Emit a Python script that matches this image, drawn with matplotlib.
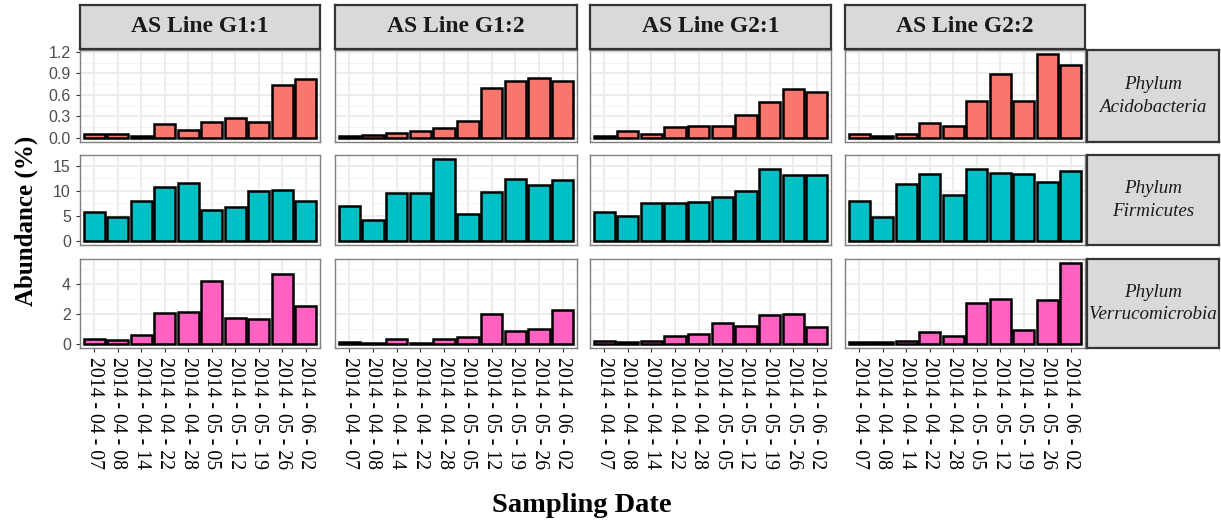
import matplotlib
matplotlib.use("Agg")
import matplotlib.pyplot as plt
import numpy as np

dates = ["2014 - 04 - 07", "2014 - 04 - 08", "2014 - 04 - 14", "2014 - 04 - 22",
         "2014 - 04 - 28", "2014 - 05 - 05", "2014 - 05 - 12", "2014 - 05 - 19",
         "2014 - 05 - 26", "2014 - 06 - 02"]
lines = ["AS Line G1:1", "AS Line G1:2", "AS Line G2:1", "AS Line G2:2"]
phyla = ["Phylum\nAcidobacteria", "Phylum\nFirmicutes", "Phylum\nVerrucomicrobia"]
colors = ["#F8766D", "#00BFC4", "#FF61C3"]

acido_g11 = [0.05, 0.05, 0.03, 0.20, 0.11, 0.22, 0.28, 0.22, 0.74, 0.82]
acido_g12 = [0.03, 0.04, 0.07, 0.10, 0.14, 0.24, 0.70, 0.80, 0.84, 0.79]
acido_g21 = [0.02, 0.09, 0.05, 0.15, 0.17, 0.17, 0.32, 0.50, 0.68, 0.64]
acido_g22 = [0.06, 0.03, 0.05, 0.21, 0.16, 0.52, 0.89, 0.52, 1.17, 1.02]

firm_g11 = [5.8, 4.8, 8.0, 10.7, 11.5, 6.2, 6.8, 9.9, 10.2, 8.0]
firm_g12 = [6.9, 4.2, 9.6, 9.5, 16.3, 5.3, 9.7, 12.4, 11.2, 12.1]
firm_g21 = [5.7, 5.0, 7.6, 7.5, 7.7, 8.7, 9.9, 14.4, 13.2, 13.1]
firm_g22 = [7.9, 4.7, 11.3, 13.3, 9.1, 14.4, 13.5, 13.3, 11.8, 13.9]

verru_g11 = [0.33, 0.26, 0.62, 2.08, 2.14, 4.17, 1.70, 1.64, 4.66, 2.54]
verru_g12 = [0.10, 0.06, 0.33, 0.05, 0.35, 0.44, 2.03, 0.85, 1.02, 2.25]
verru_g21 = [0.17, 0.10, 0.18, 0.52, 0.68, 1.40, 1.18, 1.92, 2.03, 1.12]
verru_g22 = [0.15, 0.13, 0.20, 0.77, 0.50, 2.75, 2.97, 0.95, 2.93, 5.40]

data = [
    [acido_g11, acido_g12, acido_g21, acido_g22],
    [firm_g11, firm_g12, firm_g21, firm_g22],
    [verru_g11, verru_g12, verru_g21, verru_g22],
]
ybreaks = [[0.0, 0.3, 0.6, 0.9, 1.2], [0, 5, 10, 15], [0, 2, 4]]
ylabels = [["0.0", "0.3", "0.6", "0.9", "1.2"], ["0", "5", "10", "15"], ["0", "2", "4"]]

W, H = 1221, 524
fig = plt.figure(figsize=(W / 100, H / 100), dpi=100)
fig.patch.set_facecolor("white")

serif = ["Liberation Serif", "DejaVu Serif"]
sans = ["Liberation Sans", "DejaVu Sans"]

col_x = [(80, 320), (335, 577), (590, 831), (845, 1085)]
row_y = [(50, 142), (155, 245), (259, 348)]

def px_axes(x0, y0, x1, y1):
    return fig.add_axes([x0 / W, 1 - y1 / H, (x1 - x0) / W, (y1 - y0) / H])

x = np.arange(1, len(dates) + 1)
for r in range(3):
    vmax = max(max(d) for d in data[r])
    lo, hi = -0.05 * vmax, vmax * 1.05
    br = ybreaks[r]
    step = br[1] - br[0]
    minor = [b + step / 2 for b in [br[0] - step] + br]
    for c in range(4):
        x0, x1 = col_x[c]
        y0, y1 = row_y[r]
        ax = px_axes(x0, y0, x1, y1)
        ax.set_xlim(0.4, len(dates) + 0.6)
        ax.set_ylim(lo, hi)
        for m in minor:
            if lo < m < hi:
                ax.axhline(m, color="#F2F2F2", lw=0.6, zorder=0)
        for b in br:
            ax.axhline(b, color="#EBEBEB", lw=1.3, zorder=0)
        for xi in x:
            ax.axvline(xi, color="#EBEBEB", lw=1.3, zorder=0)
        ax.bar(x, data[r][c], width=0.9, color=colors[r], edgecolor="black",
               linewidth=1.8, zorder=2)
        for s in ax.spines.values():
            s.set_color("#7F7F7F")
            s.set_linewidth(1.0)
        ax.set_yticks(br)
        ax.set_xticks(x)
        ax.tick_params(axis="both", length=3, width=0.8, color="#333333")
        if c == 0:
            ax.set_yticklabels(ylabels[r], fontsize=11.5, color="#4D4D4D", family=sans)
        else:
            ax.tick_params(axis="y", length=0)
            ax.set_yticklabels([])
        if r == 2:
            ax.set_xticklabels(dates, rotation=-90, fontsize=14.2, family=serif,
                               color="black")
        else:
            ax.tick_params(axis="x", length=0)
            ax.set_xticklabels([])

# top strips
for c in range(4):
    x0, x1 = col_x[c]
    sa = px_axes(x0, 5, x1, 49)
    sa.set_xlim(0, 1); sa.set_ylim(0, 1)
    sa.set_facecolor("#D9D9D9")
    for s in sa.spines.values():
        s.set_color("#333333"); s.set_linewidth(1.6)
    sa.set_xticks([]); sa.set_yticks([])
    sa.text(0.5, 0.5, lines[c], ha="center", va="center", fontsize=17,
            fontweight="bold", family=serif, color="#1A1A1A")

# right strips
for r in range(3):
    y0, y1 = row_y[r]
    sa = px_axes(1087, y0, 1219, y1)
    sa.set_xlim(0, 1); sa.set_ylim(0, 1)
    sa.set_facecolor("#D9D9D9")
    for s in sa.spines.values():
        s.set_color("#333333"); s.set_linewidth(1.6)
    sa.set_xticks([]); sa.set_yticks([])
    sa.text(0.5, 0.5, phyla[r], ha="center", va="center", fontsize=13.7,
            style="italic", family=serif, color="#1A1A1A", linespacing=1.45)

fig.text(26 / W, 1 - 221 / H, "Abundance (%)", rotation=90, ha="center", va="center",
         fontsize=18, fontweight="bold", family=serif)
fig.text(582 / W, 1 - 506 / H, "Sampling Date", ha="center", va="center",
         fontsize=20.5, fontweight="bold", family=serif)

fig.savefig("out.png", dpi=100, facecolor="white")
